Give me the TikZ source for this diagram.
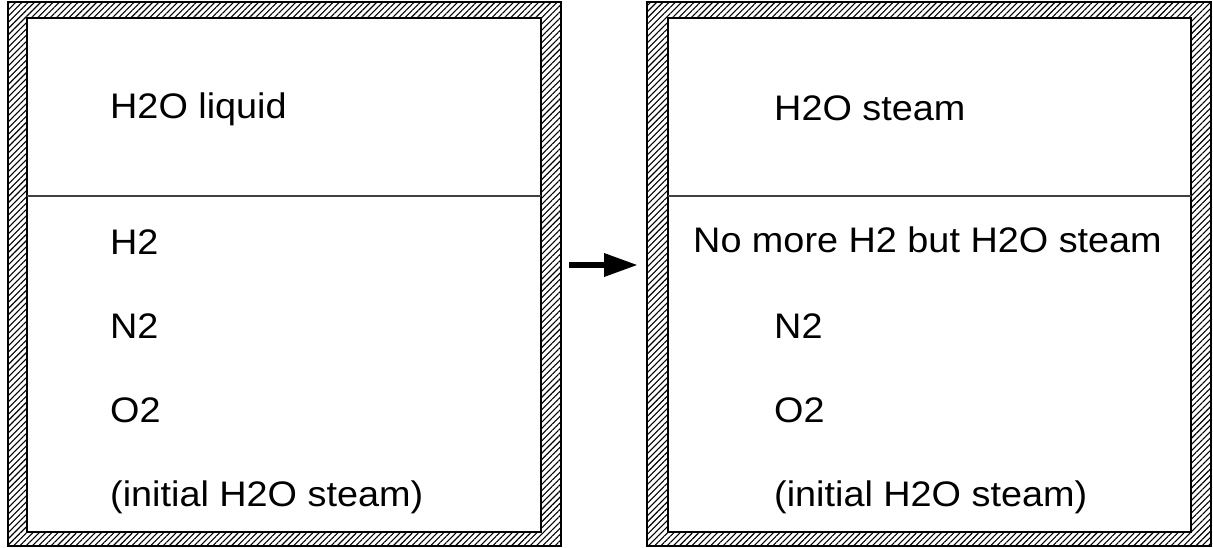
\documentclass[tikz,border=0pt]{standalone}
\usepackage{fontspec}
\setmainfont{Liberation Sans}[FakeStretch=1.065]
\usetikzlibrary{patterns.meta,arrows.meta}
\tikzset{
  hatch/.style={pattern={Lines[angle=45,distance=4.4pt,line width=1.1pt]},pattern color=black,even odd rule},
  frameline/.style={draw=black,line width=1.4pt},
  divider/.style={draw=black!75,line width=1.6pt},
  lbl/.style={anchor=base west,inner sep=0pt,font=\fontsize{35.5}{42}\selectfont},
  bigarrow/.style={line width=6.5pt,-{Triangle[length=34pt,width=22pt]}}
}
\begin{document}
\begin{tikzpicture}[x=1pt,y=-1pt]
\useasboundingbox (0,0) rectangle (1213,547);
% left box
\coordinate (LO1) at (8,2);   \coordinate (LO2) at (561,546);
\coordinate (LI1) at (27,18); \coordinate (LI2) at (541,532);
\fill[hatch] (LO1) rectangle (LO2) (LI1) rectangle (LI2);
\draw[frameline] (LO1) rectangle (LO2);
\draw[frameline] (LI1) rectangle (LI2);
\coordinate (LD1) at (27,196); \coordinate (LD2) at (541,196);
\draw[divider] (LD1) -- (LD2);
% right box
\coordinate (RO1) at (647,2);   \coordinate (RO2) at (1211,546);
\coordinate (RI1) at (668,18);  \coordinate (RI2) at (1191,532);
\fill[hatch] (RO1) rectangle (RO2) (RI1) rectangle (RI2);
\draw[frameline] (RO1) rectangle (RO2);
\draw[frameline] (RI1) rectangle (RI2);
\coordinate (RD1) at (668,196); \coordinate (RD2) at (1191,196);
\draw[divider] (RD1) -- (RD2);
% labels left
\node[lbl] (l1) at (110,118) {H2O liquid};
\node[lbl] (l2) at (110,254) {H2};
\node[lbl] (l3) at (110,338) {N2};
\node[lbl] (l4) at (110,422) {O2};
\node[lbl] (l5) at (110,506) {(initial H2O steam)};
% labels right
\node[lbl] (r1) at (774,120) {H2O steam};
\node[lbl] (r2) at (693,252) {No more H2 but H2O steam};
\node[lbl] (r3) at (774,338) {N2};
\node[lbl] (r4) at (774,422) {O2};
\node[lbl] (r5) at (774,506) {(initial H2O steam)};
% arrow
\coordinate (aS) at (569,265);
\coordinate (aE) at (638,265);
\draw[bigarrow] (aS) -- (aE);
\end{tikzpicture}
\end{document}
